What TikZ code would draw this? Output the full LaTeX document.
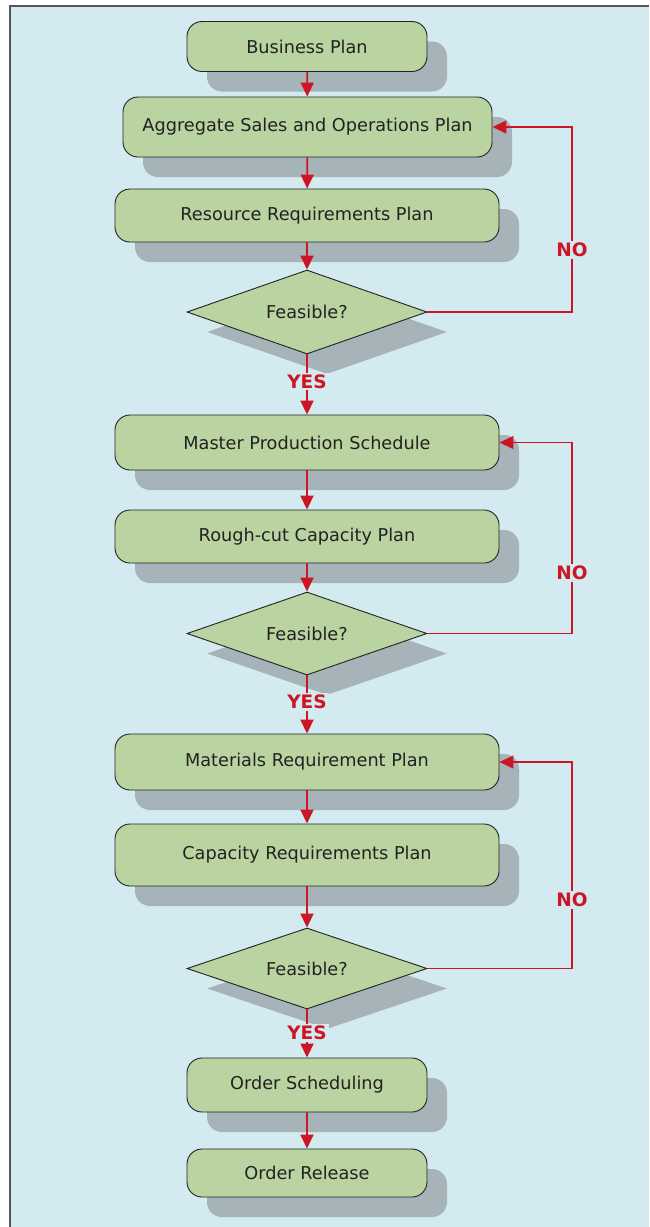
\documentclass[tikz,border=0pt]{standalone}
\usepackage{fontspec}
\setmainfont{DejaVu Sans}
\usetikzlibrary{shapes.geometric,shadows,arrows.meta}
\definecolor{bgblue}{HTML}{D2EAF0}
\definecolor{boxgreen}{HTML}{B9D4A1}
\definecolor{shadowgray}{HTML}{A6B3B8}
\definecolor{flowred}{HTML}{CC1626}
\definecolor{inkdark}{HTML}{222222}
\definecolor{framegray}{HTML}{555555}
\tikzset{
  boxshadow/.style={general shadow={fill=shadowgray, shadow xshift=20pt, shadow yshift=-20pt}},
  planbox/.style={draw=inkdark, line width=0.9pt, fill=boxgreen, rounded corners=15pt,
    minimum height=#1, inner sep=0pt, text=inkdark, font=\fontsize{17.7}{20}\selectfont, boxshadow},
  wide/.style={minimum width=384pt},
  narrow/.style={minimum width=240pt},
  decision/.style={diamond, aspect=2.86, draw=inkdark, line width=0.9pt, fill=boxgreen,
    minimum width=240pt, minimum height=#1, inner sep=0pt, text=inkdark,
    font=\fontsize{17.7}{20}\selectfont, boxshadow},
  flow/.style={draw=flowred, line width=1.8pt, -{Triangle[width=13pt,length=14pt]}},
  loopback/.style={flow, line width=1.4pt},
  branch/.style={fill=bgblue, text=flowred, inner sep=2pt, font=\bfseries\fontsize{18.5}{20}\selectfont}
}
\begin{document}
\begin{tikzpicture}[x=1pt,y=-1pt]
  % page and frame
  \useasboundingbox (0,0) rectangle (649,1227);
  \fill[bgblue] (10,6) rectangle (649,1227);
  \draw[framegray, line width=1.5pt] (10,1227) -- (10,6) -- (649,6);

  % steps of the plan
  \node[planbox=50pt, narrow] (bp) at (307,46.5) {Business Plan};
  \node[planbox=60pt, minimum width=369pt] (asop) at (307.5,127) {Aggregate Sales and Operations Plan};
  \node[planbox=53pt, wide] (rrp) at (307,215.5) {Resource Requirements Plan};
  \node[decision=84pt] (f1) at (307,312) {Feasible?};
  \node[planbox=55pt, wide] (mps) at (307,442.5) {Master Production Schedule};
  \node[planbox=53pt, wide] (rccp) at (307,536.5) {Rough-cut Capacity Plan};
  \node[decision=83pt] (f2) at (307,633.5) {Feasible?};
  \node[planbox=56pt, wide] (mrp) at (307,762) {Materials Requirement Plan};
  \node[planbox=62pt, wide] (crp) at (307,855) {Capacity Requirements Plan};
  \node[decision=81pt] (f3) at (307,968.5) {Feasible?};
  \node[planbox=54pt, narrow] (os) at (307,1085) {Order Scheduling};
  \node[planbox=48pt, narrow] (orr) at (307,1173) {Order Release};

  % forward flow
  \draw[flow] (bp) -- (asop);
  \draw[flow] (asop) -- (rrp);
  \draw[flow] (rrp) -- (f1);
  \draw[flow] (f1) -- node[branch, pos=0.45] (y1) {YES} (mps);
  \draw[flow] (mps) -- (rccp);
  \draw[flow] (rccp) -- (f2);
  \draw[flow] (f2) -- node[branch, pos=0.45] (y2) {YES} (mrp);
  \draw[flow] (mrp) -- (crp);
  \draw[flow] (crp) -- (f3);
  \draw[flow] (f3) -- node[branch, pos=0.48] (y3) {YES} (os);
  \draw[flow] (os) -- (orr);

  % feedback loops
  \coordinate (r1) at (572,127);
  \coordinate (r2) at (572,442.5);
  \coordinate (r3) at (572,762);
  \draw[loopback] (f1.east) -| (r1) -- (asop.east);
  \draw[loopback] (f2.east) -| (r2) -- (mps.east);
  \draw[loopback] (f3.east) -| (r3) -- (mrp.east);
  \node[branch] (n1) at (572,250) {NO};
  \node[branch] (n2) at (572,573) {NO};
  \node[branch] (n3) at (572,900) {NO};
\end{tikzpicture}
\end{document}
